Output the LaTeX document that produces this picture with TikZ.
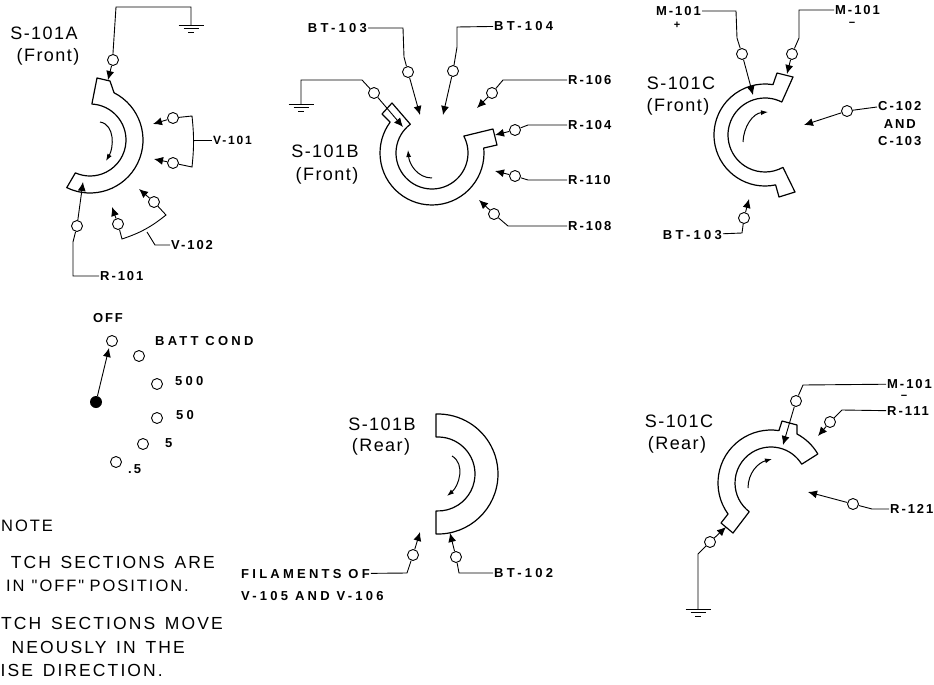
\documentclass[tikz,border=0pt]{standalone}
\usepackage{fontspec}
\usetikzlibrary{arrows.meta}
\setmainfont{Liberation Sans}
\newfontfamily\titlefont[LetterSpace=8]{Liberation Sans}
\newfontfamily\tagfont[LetterSpace=15]{Liberation Sans}
\newfontfamily\widefont[LetterSpace=25]{Liberation Sans}
\newfontfamily\notefont[LetterSpace=12,WordSpace=1.4]{Liberation Sans}
\tikzset{
  seg/.style={line width=1.2pt, line join=round},
  wire/.style={line width=0.9pt},
  term/.style={circle, draw, fill=white, line width=0.9pt, inner sep=0pt, minimum size=11pt},
  feed/.style={line width=0.9pt, -{Latex[length=9pt,width=8pt]}},
  turn/.style={line width=1pt, -{Latex[length=7pt,width=5pt]}},
  title/.style={inner sep=0pt, font=\titlefont\fontsize{18}{20}\selectfont},
  tag/.style={inner sep=1pt, anchor=west, font=\tagfont\bfseries\fontsize{13}{17.5}\selectfont},
  widetag/.style={tag, font=\widefont\bfseries\fontsize{13}{17.5}\selectfont},
  sign/.style={inner sep=0pt, font=\bfseries\fontsize{11}{11}\selectfont},
  note/.style={inner sep=0pt, font=\notefont\fontsize{17.5}{20}\selectfont},
  ground/.pic={
    \draw[wire] (-12.5,0)--(12.5,0) (-7.5,-3.5)--(7.5,-3.5) (-3,-7)--(3,-7);
  },
}
\begin{document}
\begin{tikzpicture}[x=1pt, y=1pt]
  \useasboundingbox (0,0) rectangle (934,-685);

  % S-101A front
  \node[title] (titleAa) at (44,-33) {S-101A};
  \node[title] (titleAb) at (48,-57) {(Front)};
  \coordinate (secA) at (90,-140);
  \draw[seg] ([shift=(87:36)]secA) arc (87:-114:36) -- ([shift=(-116:53)]secA) arc (-116:63:53)
    -- (110,-81) -- (97,-78) -- cycle;
  \draw[turn] (100,-122) to[out=-10, in=60] (106,-161);
  \foreach \name/\x/\y/\tx/\ty in {gA/113/60/108/80, Va/173/118/153/124, Vb/173/163/154/159,
      Vc/118/224/112/207, Vd/154/202/139/189, RA/77/226/83/182} {
    \node[term] (\name) at (\x,-\y) {};
    \coordinate (\name tip) at (\tx,-\ty);
    \draw[feed] (\name) -- (\name tip);
  }
  \node[tag, font=\tagfont\bfseries\fontsize{12}{14}\selectfont] (V101) at (212,-140) {V-101};
  \node[tag] (V102) at (170,-245) {V-102};
  \node[tag] (R101) at (99,-276) {R-101};
  \coordinate (jV101) at (194,-140);
  \coordinate (jV102) at (147,-232);
  \coordinate (earthA) at (191,-25);
  \pic at (earthA) {ground};
  \draw[wire] (gA) -- (113,-53) -- (116,-7) -- (191,-7) -- (earthA);
  \draw[wire] (Va) -- (192,-116) to[bend left=6] (192,-167) -- (Vb);
  \draw[wire] (jV101) -- (V101);
  \draw[wire] (Vc) -- (122,-239) to[bend right=10] (166,-215) -- (Vd);
  \draw[wire] (jV102) -- (155,-245) -- (V102);
  \draw[wire] (RA) -- (73,-242) -- (73,-276) -- (R101);

  % S-101B front
  \node[title] (titleBa) at (325,-151) {S-101B};
  \node[title] (titleBb) at (327,-176) {(Front)};
  \coordinate (secB) at (432,-153);
  \draw[seg] ([shift=(127:36)]secB) arc (127:388:36) -- (493,-129) -- (497,-145)
    -- ([shift=(5.5:52)]secB) arc (365.5:143.6:52) -- (382,-114) -- (392,-103) -- cycle;
  \draw[turn] (432,-178) to[out=180, in=-85] (408,-150);
  \foreach \name/\x/\y/\tx/\ty in {gB/374/93/403/127, Ba/408/72/420/115, Bb/453/71/443/115,
      Ra/492/93/477/108, Rb/515/130/495/135, Rc/515/176/495/171, Rd/494/214/479/200} {
    \node[term] (\name) at (\x,-\y) {};
    \coordinate (\name tip) at (\tx,-\ty);
    \draw[feed] (\name) -- (\name tip);
  }
  \node[widetag, anchor=east] (BT103) at (368,-28) {BT-103};
  \node[widetag] (BT104) at (493,-26) {BT-104};
  \node[tag] (R106) at (567,-80) {R-106};
  \node[tag] (R104) at (567,-125) {R-104};
  \node[tag] (R110) at (567,-180) {R-110};
  \node[tag] (R108) at (567,-226) {R-108};
  \coordinate (earthB) at (301,-104);
  \pic at (earthB) {ground};
  \draw[wire] (gB) -- (362,-80) -- (301,-80) -- (earthB);
  \draw[wire] (Ba) -- (404,-57) -- (403,-28) -- (BT103);
  \draw[wire] (Bb) -- (457,-47) -- (457,-27) -- (BT104);
  \draw[wire] (Ra) -- (503,-80) -- (R106);
  \draw[wire] (Rb) -- (528,-125) -- (R104);
  \draw[wire] (Rc) -- (528,-180) -- (R110);
  \draw[wire] (Rd) -- (508,-226) -- (R108);

  % S-101C front
  \node[title] (titleCa) at (681,-83) {S-101C};
  \node[title] (titleCb) at (678,-107) {(Front)};
  \coordinate (secC) at (765,-135);
  \draw[seg] ([shift=(63:37)]secC) arc (63:299:37) -- (795,-192) -- (779,-197)
    -- ([shift=(282:51)]secC) arc (282:81:51) -- (777,-73) -- (793,-77) -- cycle;
  \draw[turn] (743,-142) to[out=88, in=185] (768,-112);
  \foreach \name/\x/\y/\tx/\ty in {Ma/742/54/753/95, Mb/792/54/787/74, Ca/847/111/804/125,
      Be/744/218/749/199} {
    \node[term] (\name) at (\x,-\y) {};
    \coordinate (\name tip) at (\tx,-\ty);
    \draw[feed] (\name) -- (\name tip);
  }
  \node[tag, anchor=east] (Mplus) at (702,-11) {M-101};
  \node[sign] (plus) at (677,-25) {+};
  \node[tag] (Mminus) at (834,-10) {M-101};
  \node[sign] (minus) at (852,-24) {\textminus};
  \node[tag, align=center] (C102) at (877,-124) {C-102\\AND\\C-103};
  \node[widetag, anchor=east] (BT103b) at (723,-235) {BT-103};
  \draw[wire] (Ma) -- (737,-38) -- (736,-11) -- (Mplus);
  \draw[wire] (Mb) -- (799,-38) -- (799,-10) -- (Mminus);
  \draw[wire] (Ca) -- (C102.west |- 0,-107);
  \draw[wire] (Be) -- (742,-233) -- (BT103b);

  % selector positions
  \node[tag, anchor=center] (off) at (108,-318) {OFF};
  \node[circle, fill, inner sep=0pt, minimum size=12pt] (hub) at (96,-402) {};
  \foreach \name/\x/\y in {pa/112/341, pb/139/356, pc/157/384, pd/157/418, pe/143/444, pf/116/462} {
    \node[term] (\name) at (\x,-\y) {};
  }
  \coordinate (hubtip) at (109,-348);
  \draw[feed] (hub) -- (hubtip);
  \node[widetag] (batt) at (154,-341) {BATT COND};
  \node[widetag] (r500) at (174,-381) {500};
  \node[widetag] (r50) at (175,-415) {50};
  \node[widetag] (r5) at (164,-443) {5};
  \node[tag] (r05) at (127,-469) {.5};

  % note, cut by the page edge
  \node[note, anchor=west, font=\notefont\fontsize{16.5}{20}\selectfont] (noteA) at (1,-526) {NOTE};
  \node[note, anchor=east] (noteB) at (215,-562) {TCH SECTIONS ARE};
  \node[note, anchor=east, font=\notefont\fontsize{16.5}{20}\selectfont] (noteC) at (189,-586) {IN\kern-2pt\ "OFF"\kern-4pt\ POSITION.};
  \node[note, anchor=east] (noteD) at (223,-623) {TCH SECTIONS MOVE};
  \node[note, anchor=east] (noteE) at (185,-647) {NEOUSLY IN THE};
  \node[note, anchor=east] (noteF) at (163,-670) {ISE DIRECTION.};

  % S-101B rear
  \node[title] (titleDa) at (382,-424) {S-101B};
  \node[title] (titleDb) at (381,-447) {(Rear)};
  \coordinate (secD) at (438,-474);
  \draw[seg] ([shift=(93:37)]secD) arc (93:-93:37) -- ([shift=(-92:60)]secD) arc (-92:92:60) -- cycle;
  \draw[turn] (452,-456) to[out=-30, in=40] (447,-496);
  \foreach \name/\x/\y/\tx/\ty in {Fa/413/555/420/532, Bc/456/557/450/533} {
    \node[term] (\name) at (\x,-\y) {};
    \coordinate (\name tip) at (\tx,-\ty);
    \draw[feed] (\name) -- (\name tip);
  }
  \node[widetag] (fil) at (240,-574) {FILAMENTS OF};
  \node[widetag] (fil2) at (240,-596) {V-105 AND V-106};
  \node[widetag] (BT102) at (493,-573) {BT-102};
  \draw[wire] (Fa) -- (407,-573) -- (fil);
  \draw[wire] (Bc) -- (459,-573) -- (BT102);

  % S-101C rear
  \node[title] (titleEa) at (679,-421) {S-101C};
  \node[title] (titleEb) at (677,-445) {(Rear)};
  \coordinate (secE) at (771,-483);
  \draw[seg] ([shift=(31.5:36)]secE) arc (31.5:232.8:36) -- (733,-533) -- (721,-523)
    -- ([shift=(215.8:53)]secE) arc (215.8:81.4:53) -- (782,-421) -- (797,-425) -- (797,-434)
    arc (62:30.4:53) -- cycle;
  \draw[turn] (748,-488) to[out=90, in=195] (772,-459);
  \foreach \name/\x/\y/\tx/\ty in {Mc/796/401/783/445, Re/830/422/818/436, Rf/853/504/808/492,
      gE/710/542/726/527} {
    \node[term] (\name) at (\x,-\y) {};
    \coordinate (\name tip) at (\tx,-\ty);
    \draw[feed] (\name) -- (\name tip);
  }
  \node[tag] (M101) at (886,-384) {M-101};
  \node[sign] (minusb) at (904,-397) {\textminus};
  \node[tag] (R111) at (886,-411) {R-111};
  \node[tag] (R121) at (889,-509) {R-121};
  \coordinate (earthE) at (698,-609);
  \pic at (earthE) {ground};
  \draw[wire] (Mc) -- (803,-385) -- (M101);
  \draw[wire] (Re) -- (842,-410) -- (R111);
  \draw[wire] (Rf) -- (872,-509) -- (R121);
  \draw[wire] (gE) -- (698,-554) -- (earthE);
\end{tikzpicture}
\end{document}
